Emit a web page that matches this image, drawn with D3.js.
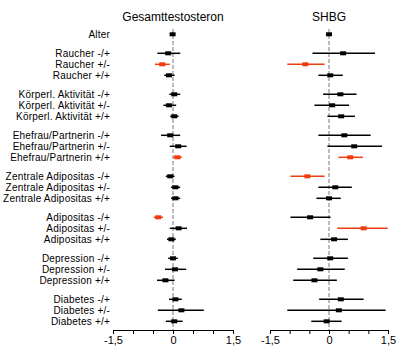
<!DOCTYPE html>
<html>
<head>
  <meta charset="UTF-8">
  <style>
    body { margin: 0; background: #fff; }
    svg text { font-family: "Liberation Sans", Arial, sans-serif; }
  </style>
</head>
<body>
<svg></svg>
<script src="https://d3js.org/d3.v7.min.js"></script>
<script>

let width = 410, height = 352;

// row labels and their group (blank gap between groups)
let labels = ["Alter",
  "Raucher -/+", "Raucher +/-", "Raucher +/+",
  "Körperl. Aktivität -/+", "Körperl. Aktivität +/-", "Körperl. Aktivität +/+",
  "Ehefrau/Partnerin -/+", "Ehefrau/Partnerin +/-", "Ehefrau/Partnerin +/+",
  "Zentrale Adipositas -/+", "Zentrale Adipositas +/-", "Zentrale Adipositas +/+",
  "Adipositas -/+", "Adipositas +/-", "Adipositas +/+",
  "Depression -/+", "Depression +/-", "Depression +/+",
  "Diabetes -/+", "Diabetes +/-", "Diabetes +/+"];
let groups = [0, 1,1,1, 2,2,2, 3,3,3, 4,4,4, 5,5,5, 6,6,6, 7,7,7];

// Gesamttestosteron
let tEst = [-0.01, -0.12, -0.27, -0.10, 0.03, -0.10, 0.03, -0.07, 0.13, 0.11, -0.07, 0.06, 0.06, -0.37, 0.14, -0.04, 0.00, 0.05, -0.19, 0.06, 0.21, 0.03];
let tLo  = [-0.03, -0.39, -0.45, -0.22, -0.09, -0.24, -0.07, -0.30, -0.08, 0.01, -0.18, -0.05, -0.05, -0.48, -0.08, -0.15, -0.12, -0.20, -0.40, -0.10, -0.38, -0.18];
let tHi  = [0.01, 0.18, -0.08, 0.04, 0.18, 0.08, 0.14, 0.18, 0.34, 0.22, 0.04, 0.18, 0.18, -0.25, 0.35, 0.07, 0.12, 0.33, 0.04, 0.22, 0.77, 0.24];
let tSig = [0, 0,1,0, 0,0,0, 0,0,1, 0,0,0, 1,0,0, 0,0,0, 0,0,0];

// SHBG
let sEst = [0.00, 0.36, -0.60, 0.03, 0.29, 0.08, 0.31, 0.39, 0.64, 0.54, -0.55, 0.16, 0.00, -0.48, 0.88, 0.13, 0.03, -0.22, -0.37, 0.30, 0.25, -0.06];
let sLo  = [-0.02, -0.42, -1.06, -0.27, -0.15, -0.37, -0.04, -0.27, -0.04, 0.24, -0.98, -0.27, -0.32, -0.98, 0.21, -0.22, -0.40, -0.81, -0.91, -0.25, -1.06, -0.45];
let sHi  = [0.02, 1.17, -0.11, 0.35, 0.70, 0.51, 0.66, 1.06, 1.35, 0.86, -0.11, 0.58, 0.30, 0.04, 1.49, 0.48, 0.48, 0.40, 0.20, 0.88, 1.44, 0.32];
let sSig = [0, 0,1,0, 0,0,0, 0,0,1, 1,0,0, 0,1,0, 0,0,0, 0,0,0];

let tickVals = [-1.5, -1, -0.5, 0, 0.5, 1, 1.5];
let tickText = {"-1.5": "-1,5", "0": "0", "1.5": "1,5"};

let red = "#f03c0f";

let svg = d3.select("svg")
    .attr("width", width)
    .attr("height", height);

let gapSlot = 8 / 11;
let slot = (i) => i + groups[i] * gapSlot;
let y = d3.scaleLinear()
    .domain([0, slot(labels.length - 1)])
    .range([34.3, 321.3]);

let axisY = 330;

// row labels
svg.append("g")
    .selectAll("text")
    .data(labels)
    .enter()
    .append("text")
    .attr("x", 110)
    .attr("y", (d, i) => y(slot(i)))
    .attr("dy", "0.35em")
    .attr("text-anchor", "end")
    .style("font-size", "10px")
    .style("letter-spacing", "0.2px")
    .text(d => d);

function panel(title, x0, x1, est, lo, hi, sig) {
    let x = d3.scaleLinear().domain([-1.5, 1.5]).range([x0, x1]);
    let g = svg.append("g");

    g.append("text")
        .attr("x", x(0))
        .attr("y", 21)
        .attr("text-anchor", "middle")
        .style("font-size", "12px")
        .text(title);

    g.append("line")
        .attr("x1", x(0)).attr("x2", x(0))
        .attr("y1", 29).attr("y2", axisY)
        .attr("stroke", "#999")
        .attr("stroke-width", 1.3)
        .attr("stroke-dasharray", "4,2");

    let axis = d3.axisBottom(x)
        .tickValues(tickVals)
        .tickSize(4)
        .tickSizeOuter(0)
        .tickFormat(d => tickText[String(d)] || "");

    let ag = g.append("g")
        .attr("transform", "translate(0," + axisY + ")")
        .call(axis);
    ag.select(".domain").attr("stroke", "#000");
    ag.selectAll(".tick line").attr("stroke", "#000");
    ag.selectAll(".tick text")
        .attr("y", 6)
        .style("font-size", "11px")
        .style("font-family", "'Liberation Sans', Arial, sans-serif")
        .attr("fill", "#000");

    let rows = g.selectAll(".row")
        .data(labels.map((d, i) => i))
        .enter()
        .append("g");

    rows.append("line")
        .attr("x1", i => x(lo[i]))
        .attr("x2", i => x(hi[i]))
        .attr("y1", i => y(slot(i)))
        .attr("y2", i => y(slot(i)))
        .attr("stroke", i => sig[i] ? red : "#000")
        .attr("stroke-width", 1.5);

    rows.append("rect")
        .attr("x", i => x(est[i]) - 3)
        .attr("y", i => y(slot(i)) - 2)
        .attr("width", 6)
        .attr("height", 4)
        .attr("fill", i => sig[i] ? red : "#000");
}

panel("Gesamttestosteron", 113, 233, tEst, tLo, tHi, tSig);
panel("SHBG", 270, 388, sEst, sLo, sHi, sSig);

</script>
</body>
</html>
